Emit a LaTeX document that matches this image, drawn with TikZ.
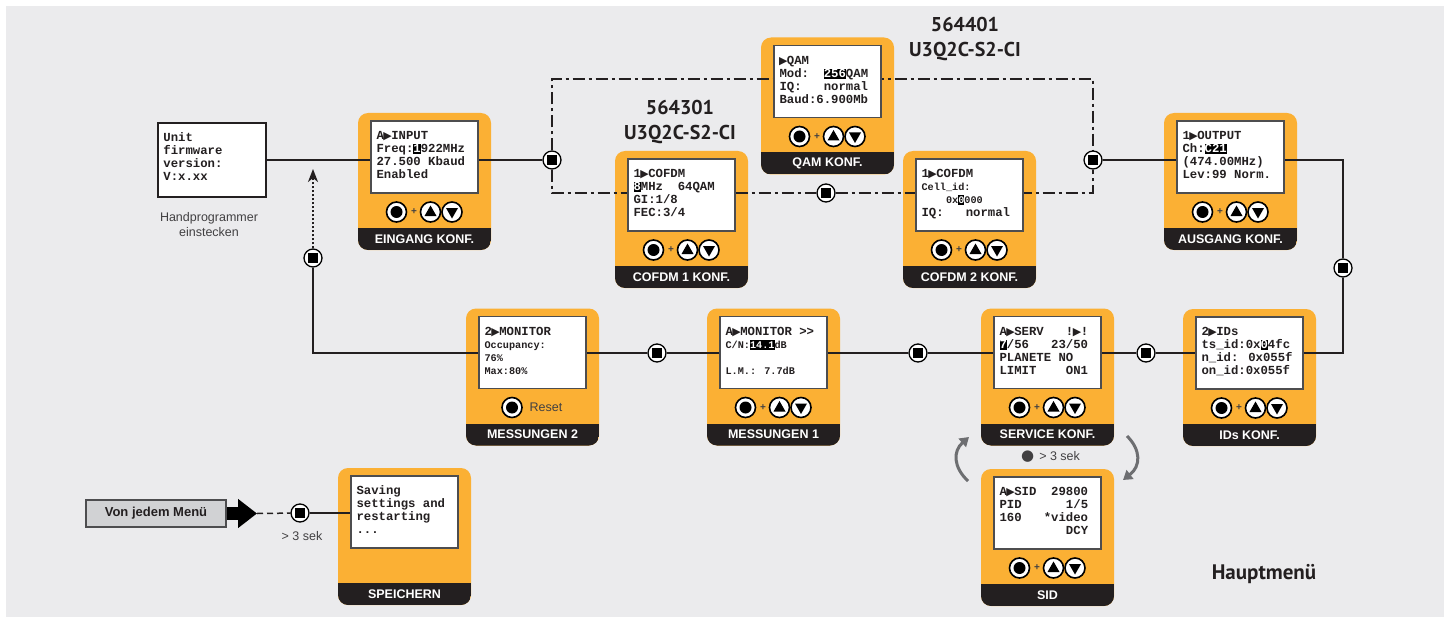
\documentclass[tikz,border=0pt]{standalone}
\usepackage{fontspec}
\setmainfont{Liberation Sans}
\newfontfamily\lcdfont{Liberation Mono}
\newfontfamily\headfont{PT Sans}
\newfontfamily\symfont{DejaVu Sans}
\usetikzlibrary{arrows.meta}

\definecolor{panelorange}{RGB}{251,176,52}
\definecolor{bardark}{RGB}{35,31,32}
\definecolor{bggray}{RGB}{235,235,237}
\definecolor{lcdframe}{RGB}{77,77,79}
\definecolor{textgray}{RGB}{65,64,66}
\definecolor{boxgray}{RGB}{209,210,212}
\definecolor{arcgray}{RGB}{109,110,113}

\pgfdeclarelayer{back}
\pgfdeclarelayer{body}
\pgfdeclarelayer{wires}
\pgfsetlayers{back,body,wires,main}

\newcommand{\tri}{\makebox[0.6em]{\symfont\fontsize{11}{11}\selectfont ▶}}
\newcommand{\inv}[1]{{\setlength{\fboxsep}{0pt}\colorbox{black}{\rule[-1.5pt]{0pt}{10pt}\textcolor{white}{#1}}}}
\newcommand{\sm}{\fontsize{10.2}{13}\selectfont}

\tikzset{
    panel/.style={rounded corners=10pt, fill=panelorange, minimum width=133pt,
        minimum height=137pt, inner sep=0pt,
        path picture={\fill[bardark, sharp corners] (path picture bounding box.south west)
            rectangle ([yshift=22pt]path picture bounding box.south east);}},
    lcd/.style={draw=lcdframe, line width=1.3pt, fill=white, minimum width=107pt,
        minimum height=72pt, inner sep=0pt},
    lcdtext/.style={anchor=north west, inner sep=0pt, align=left, text=bardark,
        font=\lcdfont\bfseries\fontsize{12.3}{13}\selectfont},
    bartext/.style={font=\bfseries\fontsize{12.5}{14}\selectfont, text=white, inner sep=0pt},
    plaintext/.style={font=\fontsize{12.5}{15}\selectfont, text=textgray, inner sep=0pt},
    headtext/.style={font=\headfont\bfseries\fontsize{20}{25}\selectfont, text=bardark,
        align=center, inner sep=0pt},
    button/.style={circle, draw=black, fill=white, line width=1.6pt, minimum size=20pt, inner sep=0pt},
    junction/.style={circle, draw=black, fill=white, line width=1.3pt, minimum size=18pt, inner sep=0pt,
        path picture={\fill[black] ([shift={(-5pt,-5pt)}]path picture bounding box.center)
            rectangle ([shift={(5pt,5pt)}]path picture bounding box.center);}},
    wire/.style={draw=bardark, line width=1.5pt},
    optline/.style={wire, dash pattern=on 12pt off 4pt on 3pt off 4pt},
    dotwire/.style={wire, line width=2pt, dash pattern=on 2pt off 2pt,
        -{Stealth[length=13pt,width=10pt,inset=4pt]}},
    dashwire/.style={wire, dash pattern=on 6pt off 4pt},
    turn/.style={draw=arcgray, line width=3pt, -{Triangle[length=9pt,width=11pt]}}
}

% name, centre, title, screen lines
\newcommand{\menubox}[4]{%
    \begin{pgfonlayer}{body}
        \node[panel] (#1) at (#2) {};
    \end{pgfonlayer}
    \node[lcd] (#1-lcd) at ([shift={(0,-24.5)}]#1.center) {};
    \node[lcdtext] (#1-txt) at ([shift={(6,10)}]#1-lcd.north west) {\rule{0pt}{9pt}#4};
    \node[bartext] (#1-lbl) at ([shift={(0,57.5)}]#1.center) {#3};
}

\newcommand{\menukeys}[1]{%
    \node[button] (#1-ok) at ([shift={(-28,30.5)}]#1.center) {};
    \fill (#1-ok) circle (6pt);
    \node[font=\bfseries\fontsize{10}{10}\selectfont, text=textgray, inner sep=0pt]
        (#1-plus) at ([shift={(-10.5,30.5)}]#1.center) {+};
    \node[button] (#1-up) at ([shift={(6,30.5)}]#1.center) {};
    \fill ([shift={(-6,4)}]#1-up.center) -- ([shift={(6,4)}]#1-up.center)
        -- ([shift={(0,-6.5)}]#1-up.center) -- cycle;
    \node[button] (#1-dn) at ([shift={(27.5,30.5)}]#1.center) {};
    \fill ([shift={(-6,-4)}]#1-dn.center) -- ([shift={(6,-4)}]#1-dn.center)
        -- ([shift={(0,6.5)}]#1-dn.center) -- cycle;
}

\begin{document}
\begin{tikzpicture}[x=1pt, y=-1pt]
    \begin{pgfonlayer}{back}
        \fill[bggray] (6,6) rectangle (1444,617);
    \end{pgfonlayer}
    \useasboundingbox (0,0) rectangle (1454,623);

    % main menu
    \menubox{in}{424.5,181.5}{EINGANG KONF.}{A\tri INPUT\\Freq:\inv{1}922MHz\\27.500 Kbaud\\Enabled}
    \menubox{cofa}{681.5,219.5}{COFDM 1 KONF.}{1\tri COFDM\\\inv{8}MHz~~64QAM\\GI:1/8\\FEC:3/4}
    \menubox{qam}{827.5,106}{QAM KONF.}{\tri QAM\\Mod:~~\inv{256}QAM\\IQ:~~~normal\\Baud:6.900Mb}
    \menubox{cofb}{969.5,219.5}{COFDM 2 KONF.}{1\tri COFDM\\{\sm Cell\_id:}\\{\sm ~~~~0x\inv{0}000}\\IQ:~~~normal}
    \menubox{out}{1230.5,181.5}{AUSGANG KONF.}{1\tri OUTPUT\\Ch:\inv{C21}\\(474.00MHz)\\Lev:99 Norm.}
    \menubox{ids}{1249.5,377.5}{IDs KONF.}{2\tri IDs\\ts\_id:0x\inv{0}4fc\\n\_id: 0x055f\\on\_id:0x055f}
    \menubox{serv}{1047.5,377}{SERVICE KONF.}{A\tri SERV~~~!\tri!\\\inv{7}/56~~~23/50\\PLANETE NO\\LIMIT~~~~ON1}
    \menubox{mesa}{773.5,377}{MESSUNGEN 1}{A\tri MONITOR >>\\{\sm C/N:\inv{14.1}dB}\\~\\{\sm L.M.: 7.7dB}}
    \menubox{mesb}{532.5,377}{MESSUNGEN 2}{2\tri MONITOR\\{\sm Occupancy:}\\{\sm 76\%}\\{\sm Max:80\%}}
    \menubox{sid}{1047.5,537.5}{SID}{A\tri SID~~29800\\PID~~~~~~1/5\\160~~~*video\\~~~~~~~~~DCY}
    \menubox{save}{404.5,536.5}{SPEICHERN}{Saving\\settings and\\restarting\\...}

    \foreach \m in {in,cofa,qam,cofb,out,ids,serv,mesa,sid}
        {\menukeys{\m}}

    \node[button] (mesb-ok) at ([shift={(-20.5,30.5)}]mesb.center) {};
    \fill (mesb-ok) circle (6pt);
    \node[plaintext, anchor=west] (mesb-reset) at ([shift={(-3,30.5)}]mesb.center) {Reset};

    \node[draw=bardark, line width=1.5pt, fill=white, minimum width=108pt,
        minimum height=74pt, inner sep=0pt] (unit) at (212,160) {};
    \node[lcdtext] (unit-txt) at ([shift={(6,10)}]unit.north west)
        {\rule{0pt}{9pt}Unit\\firmware\\version:\\V:x.xx};
    \node[plaintext, align=center] (hand) at (209,224.5) {Handprogrammer\\einstecken};

    \node[headtext] (cofa-type) at (680,122) {564301\\U3Q2C-S2-CI};
    \node[headtext] (qam-type) at (965,39) {564401\\U3Q2C-S2-CI};
    \node[font=\headfont\bfseries\fontsize{21}{25}\selectfont, text=bardark, inner sep=0pt]
        (title) at (1264,574) {Hauptmenü};

    \node[draw=lcdframe, line width=1.2pt, fill=boxgray, minimum width=140pt, minimum height=27pt,
        font=\bfseries\fontsize{13}{14}\selectfont, text=bardark] (anymenu) at (156,513.5) {Von jedem Menü};
    \node[plaintext] (save-hold) at (302,536) {> 3 sek};
    \node[plaintext, anchor=west] (sid-hold) at (1021,457)
        {{\symfont\fontsize{15}{15}\selectfont ●}\hspace{5pt}> 3 sek};

    % junctions
    \node[junction] (j1) at (552,160) {};
    \node[junction] (j2) at (1093,160) {};
    \node[junction] (j3) at (826,193) {};
    \node[junction] (j4) at (1343,268) {};
    \node[junction] (j5) at (1146,353) {};
    \node[junction] (j6) at (918,353) {};
    \node[junction] (j7) at (657,353) {};
    \node[junction] (j8) at (313,258) {};
    \node[junction] (j9) at (300,513) {};

    \coordinate (otl) at (552,79);
    \coordinate (otr) at (1093,79);
    \coordinate (obl) at (552,193);
    \coordinate (obr) at (1093,193);
    \coordinate (rt) at (1343,160);
    \coordinate (rb) at (1343,353);
    \coordinate (lb) at (313,353);
    \coordinate (plug) at (313,169);
    \coordinate (bigtip) at (257,513.5);

    \begin{pgfonlayer}{wires}
        \draw[wire] (unit.east) -- (j1);
        \draw[optline] (j1) -- (otl) -- (otr) -- (j2);
        \draw[optline] (j1) -- (obl) -- (j3) -- (obr) -- (j2);
        \draw[wire] (j2) -- (rt) -- (j4) -- (rb) -- (j5) -- (j6) -- (j7) -- (lb) -- (j8);
        \draw[dotwire] (j8) -- (plug);
        \draw[line width=13pt, -{Triangle[length=19pt,width=28pt]}] (anymenu.east) -- (bigtip);
        \draw[dashwire] (bigtip) -- (j9);
        \draw[wire] (j9) -- (j9 -| save-lcd.west);
    \end{pgfonlayer}

    \draw[turn] (968,481) .. controls (953,467) and (953,451) .. (969,437);
    \draw[turn] (1127,436) .. controls (1141,450) and (1141,466) .. (1123,480);
\end{tikzpicture}
\end{document}
